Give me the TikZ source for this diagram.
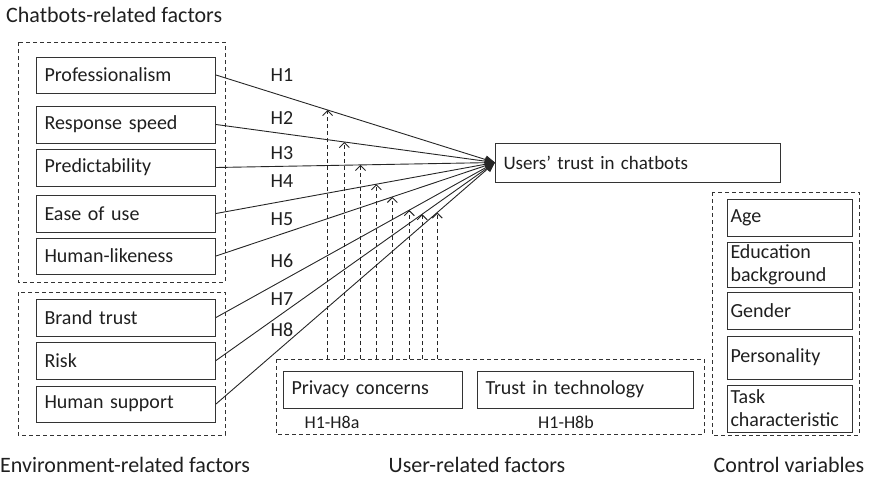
\documentclass[tikz,border=0pt]{standalone}
\usepackage{fontspec}
\setmainfont{Carlito}
\usetikzlibrary{arrows.meta,calc}
\begin{document}
\begin{tikzpicture}[x=1pt, y=-1pt, font=\fontsize{20}{23}\selectfont]
      \tikzset{
	  factor/.style={rectangle, draw=black!80, line width=1pt, anchor=west, minimum height=36pt, minimum width=179pt, text width=163pt, inner xsep=8pt, inner ysep=0pt, align=left, text=black!88},
	  control/.style={factor, minimum width=125pt, text width=119pt, inner xsep=3pt},
	  group/.style={draw=black!80, line width=0.9pt, dash pattern=on 4pt off 3pt},
	  effect/.style={draw=black!85, line width=0.9pt, -{Triangle[length=10pt,width=8pt]}},
	  moderate/.style={draw=black!85, line width=0.9pt, dash pattern=on 4pt off 3pt, -{Straight Barb[length=5pt,width=10pt]}},
	  mylabel/.style={inner sep=0pt, text=black!88},
	  grouptitle/.style={mylabel, font=\fontsize{22}{24}\selectfont}
      }
      \useasboundingbox (0,0) rectangle (871,477);

      % chatbots-related factors
      \node[grouptitle, anchor=west] (chattitle) at (6,15) {Chatbots-related factors};
      \draw[group] (18,42) rectangle (225,282);
      \node[factor] (f1) at (36,75) {Professionalism};
      \node[factor, minimum height=37pt] (f2) at (36,124.5) {Response speed};
      \node[factor, minimum height=37pt] (f3) at (36,167.5) {Predictability};
      \node[factor, minimum height=37pt] (f4) at (36,213.5) {Ease of use};
      \node[factor] (f5) at (36,256) {Human-likeness};

      % environment-related factors
      \draw[group] (18,292) rectangle (225,435);
      \node[factor, minimum height=37pt] (f6) at (36,317.5) {Brand trust};
      \node[factor, minimum height=37pt] (f7) at (36,360.5) {Risk};
      \node[factor] (f8) at (36,404) {Human support};
      \node[grouptitle, anchor=west] (envtitle) at (0,465) {Environment-related factors};

      \node[factor, minimum width=285pt, text width=269pt, minimum height=39pt, font=\fontsize{19}{22}\selectfont] (trust) at (495,162.5) {Users’ trust in chatbots};

      % user-related factors
      \draw[group] (276,359) rectangle (704,434);
      \coordinate (users) at (490,359);
      \node[factor, minimum height=37pt] (privacy) at (283,389.5) {Privacy concerns};
      \node[factor, minimum width=216pt, text width=200pt, minimum height=37pt] (techtrust) at (477,389.5) {Trust in technology};
      \node[mylabel, font=\fontsize{18}{20}\selectfont] (h8a) at (332,422) {H1-H8a};
      \node[mylabel, font=\fontsize{18}{20}\selectfont] (h8b) at (566,422) {H1-H8b};
      \node[grouptitle] (usertitle) at (477,465) {User-related factors};

      % control variables
      \draw[group] (712,192) rectangle (859,435);
      \node[control, minimum height=37pt] (c1) at (727,217.5) {Age};
      \node[control, minimum height=45pt] (c2) at (727,264.5) {Education\\background};
      \node[control, minimum height=37pt] (c3) at (727,310.5) {Gender};
      \node[control, minimum height=43pt] (c4) at (727,357.5) {Personality};
      \node[control, minimum height=47pt] (c5) at (727,408.5) {Task\\characteristic};
      \node[grouptitle] (ctrltitle) at (789,465) {Control variables};

      % hypotheses and moderation
      \foreach \i/\t/\hy in {1/0.40/75, 2/0.46/118, 3/0.518/153, 4/0.575/181, 5/0.632/219, 6/0.693/261, 7/0.739/299, 8/0.793/330} {
	  \draw[effect] (f\i.east) -- (trust.west);
	  \coordinate (m\i) at ($(f\i.east)!\t!(trust.west)$);
	  \draw[moderate] (m\i |- users) -- (m\i);
	  \node[mylabel] (h\i) at (282,\hy) {H\i};
      }
    \end{tikzpicture}
\end{document}
